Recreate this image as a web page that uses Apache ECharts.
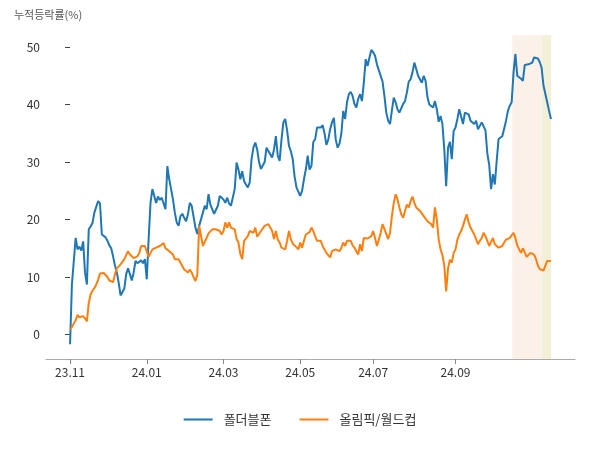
<!DOCTYPE html>
<html>
<head>
<meta charset="utf-8">
<script src="https://cdn.jsdelivr.net/npm/echarts@6/dist/echarts.min.js"></script>
<style>html,body{margin:0;padding:0;background:#fff}#c{width:600px;height:450px}</style>
</head>
<body>
<div id="c"></div>
<script>
// Series names
const seriesNames = ['폴더블폰', '올림픽/월드컵'];
// 누적등락률(%) by trading day (index 0 = 2023-11 start)
const foldable = [
-1.7,8.7,8.5,16.8,14.8,15.3,14.6,16.2,10.8,8.7,
18.3,18.8,19.4,21.2,21.5,23.2,22.8,17.4,17.2,16.9,
16.3,15.5,15.0,13.6,12.0,10.8,9.0,6.8,6.6,8.0,
10.5,11.5,10.5,9.4,10.8,12.8,12.4,12.5,12.9,12.4,
13.1,9.6,16.6,22.9,25.3,25.2,22.9,24.0,23.4,23.8,
23.5,21.8,29.3,27.0,25.3,23.5,21.2,19.5,18.9,20.6,
21.0,20.3,19.7,20.9,22.9,22.4,20.5,18.6,17.5,18.9,
19.2,21.2,22.4,21.8,24.4,22.6,22.3,21.0,20.9,22.4,
24.1,24.4,23.5,22.9,23.8,22.8,22.4,22.1,25.3,29.9,
28.7,27.0,28.4,26.7,26.1,25.6,26.4,30.5,32.5,33.4,
32.2,30.0,28.8,28.5,30.0,32.5,31.9,32.2,30.8,32.2,
34.5,31.1,30.2,33.9,36.9,37.5,35.5,32.8,31.9,30.5,
27.5,25.6,25.3,24.1,25.0,27.0,28.7,31.1,28.7,29.3,
33.5,34.0,36.0,35.7,36.0,36.4,35.0,33.0,33.9,35.7,
36.9,37.7,33.9,32.5,33.2,35.0,38.9,37.5,40.4,41.8,
42.2,41.5,40.1,39.5,41.0,41.8,40.6,43.8,47.9,46.7,
48.2,49.5,49.1,48.5,47.0,46.0,45.0,44.0,41.5,38.6,
37.2,36.6,39.0,41.2,40.4,39.2,38.6,38.9,40.1,40.6,
42.1,44.0,44.4,45.6,47.3,46.2,45.0,44.7,43.8,45.0,
44.1,41.3,40.0,39.8,39.5,40.6,39.2,37.0,38.0,36.6,
32.2,25.8,32.5,33.5,30.5,35.4,36.0,37.5,39.2,39.5,
36.6,38.6,38.9,38.3,37.2,37.5,36.6,37.2,35.7,35.4,
36.9,36.9,35.5,31.5,29.5,25.3,27.9,26.1,30.2,34.0,
34.3,34.5,34.8,37.2,38.9,39.8,40.4,45.6,48.8,45.0,
44.7,44.5,44.1,46.9,46.7,47.0,47.0,47.3,48.2,48.4,
48.0,47.4,46.4,43.3,43.0,40.4,38.9,37.5
];
const olympic = [
0.9,1.3,1.5,2.5,3.4,3.0,3.1,3.2,2.8,2.3,
5.5,7.0,7.6,8.1,8.7,9.5,10.6,10.8,10.7,10.4,
10.0,9.4,9.2,9.1,10.5,11.5,11.8,12.2,12.5,13.1,
13.8,14.5,13.9,13.6,13.3,13.1,13.6,14.2,15.4,15.3,
15.4,15.2,13.5,14.2,14.8,15.0,15.1,15.3,15.4,15.6,
15.9,15.0,15.0,14.5,14.8,13.9,13.1,12.8,13.1,12.5,
11.9,11.3,11.6,10.8,11.3,10.8,10.0,9.3,10.3,18.9,
18.6,15.4,16.2,16.8,17.6,17.9,18.3,18.6,18.3,18.0,
18.0,17.4,18.0,19.5,18.6,19.5,18.6,18.5,18.3,16.6,
16.0,14.0,13.1,16.3,16.6,17.1,18.0,18.0,17.7,18.6,
17.0,17.1,18.0,18.3,18.9,18.6,19.2,18.9,18.0,16.6,
18.0,16.5,16.0,15.1,14.8,14.8,16.3,18.0,16.6,15.8,
16.0,15.2,14.8,16.0,15.1,16.3,17.4,17.7,17.8,18.6,
18.0,17.1,16.3,16.0,16.3,15.4,14.8,14.2,13.9,13.4,
14.5,14.8,14.8,14.6,14.5,15.1,16.0,15.4,16.3,16.0,
16.3,15.5,15.1,14.5,13.9,15.7,14.5,16.8,16.8,16.7,
16.8,17.1,18.0,16.8,15.4,16.5,17.7,19.2,18.9,17.5,
16.6,17.7,20.6,22.9,24.4,23.5,22.1,20.9,20.3,21.5,
22.6,22.1,23.2,24.0,22.9,22.1,21.8,21.5,21.2,20.6,
20.3,19.7,20.0,19.2,18.6,22.1,20.0,16.6,14.8,13.8,
12.0,7.5,11.5,13.0,12.5,14.2,14.8,16.5,17.4,18.0,
18.9,20.0,20.9,19.5,18.6,18.0,17.4,16.6,15.7,16.3,
16.8,17.7,17.1,16.3,15.4,15.1,16.8,15.7,15.4,15.1,
14.8,15.4,16.0,16.5,16.6,16.8,16.6,17.7,16.8,15.5,
14.8,14.2,15.0,14.3,13.5,13.4,14.2,14.5,13.9,13.1,
12.0,11.4,11.6,11.1,11.1,12.8,13.1,12.8
];
// x tick positions (trading-day index) and labels
const xTickIdx = [0, 41, 82, 123, 162, 206];
const xTickLabels = ['23.11', '24.01', '24.03', '24.05', '24.07', '24.09'];
const yTicks = [0, 10, 20, 30, 40, 50];
// shaded periods (trading-day index ranges)
const shadeRanges = [[236.3, 252.2], [252.2, 257.1]];
const shadeColors = ['#FBF1E8', '#F4F0D8'];

const toPts = arr => arr.map((v, i) => [i, v]);
const font = '"Noto Sans CJK KR", "Noto Sans", sans-serif';

const chart = echarts.init(document.getElementById('c'));
chart.setOption({
  animation: false,
  backgroundColor: '#fff',
  textStyle: { fontFamily: font },
  title: {
    text: '누적등락률(%)', left: 9, top: 4,
    textStyle: { fontSize: 11, fontWeight: 'normal', color: '#555', fontFamily: font }
  },
  grid: { left: 46, right: 25, top: 35, bottom: 91 },
  legend: {
    data: seriesNames, bottom: 19, left: 'center',
    icon: 'rect', itemWidth: 29, itemHeight: 2, itemGap: 28,
    textStyle: { fontSize: 13, color: '#333', fontFamily: font, padding: [0, 0, 0, 6] }
  },
  xAxis: {
    type: 'value', min: -12.85, max: 269.85,
    axisLine: { show: true, onZero: false, lineStyle: { color: '#aaa', width: 1 } },
    axisTick: { show: true, customValues: xTickIdx, length: 5, lineStyle: { color: '#888' } },
    axisLabel: {
      customValues: xTickIdx, color: '#333', fontSize: 12, margin: 7, fontFamily: font,
      formatter: v => xTickLabels[xTickIdx.indexOf(v)] || ''
    },
    splitLine: { show: false }
  },
  yAxis: {
    type: 'value', min: -4.26, max: 52.1,
    axisLine: { show: false },
    axisTick: { show: true, customValues: yTicks, length: 5, lineStyle: { color: '#444' } },
    axisLabel: { customValues: yTicks, color: '#333', fontSize: 12, margin: 6, fontFamily: font },
    splitLine: { show: false }
  },
  series: [
    {
      name: seriesNames[0], type: 'line', data: toPts(foldable), showSymbol: false, symbol: 'none',
      lineStyle: { width: 2, color: '#1f77b4' }, itemStyle: { color: '#1f77b4' }, z: 3,
      markArea: {
        silent: true,
        data: shadeRanges.map((r, k) => [
          { xAxis: r[0], itemStyle: { color: shadeColors[k] } },
          { xAxis: r[1] }
        ])
      }
    },
    {
      name: seriesNames[1], type: 'line', data: toPts(olympic), showSymbol: false, symbol: 'none',
      lineStyle: { width: 2, color: '#ff7f0e' }, itemStyle: { color: '#ff7f0e' }, z: 3
    }
  ]
});
</script>
</body>
</html>
